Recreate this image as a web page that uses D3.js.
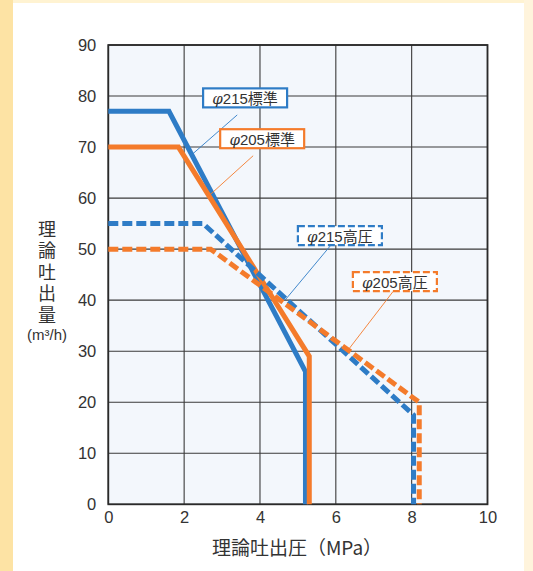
<!DOCTYPE html>
<html lang="ja">
<head>
<meta charset="utf-8">
<title>理論吐出量</title>
<script src="https://d3js.org/d3.v7.min.js"></script>
<style>
  body { margin: 0; background: #fff; }
  text { font-family: "Liberation Sans", "Noto Sans CJK JP", sans-serif; fill: #333; }
  .cjk { font-family: "Noto Sans CJK JP", sans-serif; }
</style>
</head>
<body>
<script>
// data
var xTicks = [0, 2, 4, 6, 8, 10];
var yTicks = [0, 10, 20, 30, 40, 50, 60, 70, 80, 90];

var d215std = [[0, 77], [1.6, 77], [5.2, 26], [5.2, 0]];
var d205std = [[0, 70], [1.85, 70], [5.3, 29], [5.3, 0]];
var d215hp  = [[0, 55], [2.5, 55], [8.05, 17.5], [8.05, 0]];
var d205hp  = [[0, 50], [2.7, 50], [8.2, 20], [8.2, 0]];

// label: name, box left/top (data), leader start and end (data)
var labels = [
  { name: "φ215標準", at: [2.5, 81.5], from: [3.4, 76.3], to: [2.2, 68.5], color: "#2e7cc6", dash: false },
  { name: "φ205標準", at: [2.95, 73.5], from: [3.82, 68.3], to: [2.63, 60.3], color: "#f47b2b", dash: false },
  { name: "φ215高圧", at: [5.0, 54.5], from: [5.85, 50.6], to: [4.66, 40], color: "#2e7cc6", dash: true },
  { name: "φ205高圧", at: [6.45, 45.5], from: [7.51, 41.7], to: [6.3, 30], color: "#f47b2b", dash: true }
];

var W = 533, H = 571;
var svg = d3.select("body").append("svg").attr("width", W).attr("height", H);

// page background
svg.append("rect").attr("width", W).attr("height", H).attr("fill", "#fffdf6");
svg.append("rect").attr("x", 0).attr("y", 0).attr("width", 13).attr("height", H).attr("fill", "#fde3a4");
svg.append("rect").attr("x", 13).attr("y", 0).attr("width", W - 13).attr("height", 3).attr("fill", "#fff3d2");
svg.append("rect").attr("x", 524).attr("y", 0).attr("width", 9).attr("height", H).attr("fill", "#fff4dc");
svg.append("rect").attr("x", 13).attr("y", 3).attr("width", 511).attr("height", H - 3).attr("fill", "#ffffff");

var x = d3.scaleLinear().domain([0, 10]).range([108.3, 487.5]);
var y = d3.scaleLinear().domain([0, 90]).range([504.3, 45]);

svg.append("rect")
  .attr("x", x(0)).attr("y", y(90))
  .attr("width", x(10) - x(0)).attr("height", y(0) - y(90))
  .attr("fill", "#f3f7fc");

// grid
svg.append("g").selectAll("line").data(xTicks).enter().append("line")
  .attr("x1", d => x(d)).attr("x2", d => x(d))
  .attr("y1", y(0)).attr("y2", y(90))
  .attr("stroke", "#3a3a3a").attr("stroke-width", 1.1);
svg.append("g").selectAll("line").data(yTicks).enter().append("line")
  .attr("x1", x(0)).attr("x2", x(10))
  .attr("y1", d => y(d)).attr("y2", d => y(d))
  .attr("stroke", "#3a3a3a").attr("stroke-width", 1.1);
svg.append("rect")
  .attr("x", x(0)).attr("y", y(90))
  .attr("width", x(10) - x(0)).attr("height", y(0) - y(90))
  .attr("fill", "none").attr("stroke", "#2a2a2a").attr("stroke-width", 1.8);

// tick labels
var xAxis = svg.append("g").attr("transform", "translate(0," + y(0) + ")")
  .call(d3.axisBottom(x).tickValues(xTicks).tickSize(0).tickPadding(7));
var yAxis = svg.append("g").attr("transform", "translate(" + x(0) + ",0)")
  .call(d3.axisLeft(y).tickValues(yTicks).tickSize(0).tickPadding(12));
[xAxis, yAxis].forEach(function (a) {
  a.select(".domain").remove();
  a.selectAll("text").attr("font-size", 16.5).attr("fill", "#3a3a3a")
    .attr("font-family", "Liberation Sans, sans-serif");
});

// lines
var line = d3.line().x(d => x(d[0])).y(d => y(d[1]));
function draw(data, color, dashed) {
  var p = svg.append("path").datum(data).attr("d", line)
    .attr("fill", "none").attr("stroke", color).attr("stroke-width", 5)
    .attr("stroke-linejoin", "miter");
  if (dashed) p.attr("stroke-dasharray", "10,4");
}
draw(d215std, "#2e7cc6", false);
draw(d205std, "#f47b2b", false);
draw(d215hp, "#2e7cc6", true);
draw(d205hp, "#f47b2b", true);

// labels with leader lines
labels.forEach(function (l) {
  svg.append("line")
    .attr("x1", x(l.from[0])).attr("y1", y(l.from[1]))
    .attr("x2", x(l.to[0])).attr("y2", y(l.to[1]))
    .attr("stroke", l.color).attr("stroke-width", 0.9);
  var bx = x(l.at[0]), by = y(l.at[1]);
  var r = svg.append("rect")
    .attr("x", bx).attr("y", by).attr("width", 84).attr("height", 19)
    .attr("fill", "#fff").attr("stroke", l.color).attr("stroke-width", 2.2);
  if (l.dash) r.attr("stroke-dasharray", "7,3");
  var t = svg.append("text").attr("class", "cjk")
    .attr("x", bx + 42).attr("y", by + 15.5).attr("text-anchor", "middle")
    .attr("font-size", 15).attr("fill", "#333");
  t.append("tspan").attr("font-style", "italic").attr("font-family", "DejaVu Serif, serif").text(l.name[0]);
  t.append("tspan").attr("font-family", "Liberation Sans, sans-serif").text(l.name.slice(1, 4));
  t.append("tspan").text(l.name.slice(4));
});

// axis titles
svg.append("text").attr("class", "cjk")
  .attr("x", 47).attr("y", 220)
  .style("writing-mode", "vertical-rl")
  .attr("letter-spacing", 3.5)
  .attr("font-size", 18).attr("fill", "#333")
  .text("理論吐出量");
svg.append("text")
  .attr("x", 47).attr("y", 340).attr("text-anchor", "middle")
  .attr("font-size", 15).attr("fill", "#333")
  .attr("font-family", "Liberation Sans, sans-serif")
  .text("(m³/h)");
svg.append("text").attr("class", "cjk")
  .attr("x", 297).attr("y", 555).attr("text-anchor", "middle")
  .attr("font-size", 19).attr("fill", "#333")
  .text("理論吐出圧（MPa）");
</script>
</body>
</html>
